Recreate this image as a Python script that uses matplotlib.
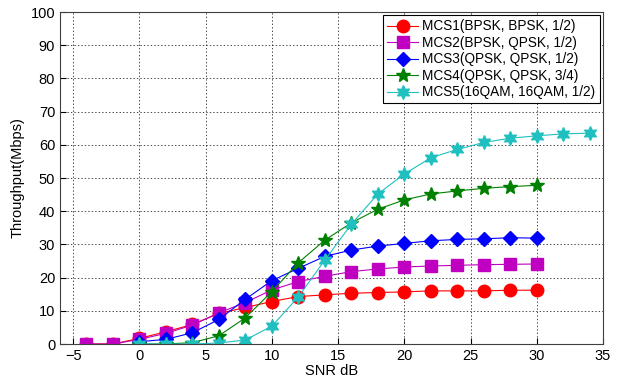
import matplotlib
matplotlib.use("Agg")
import matplotlib.pyplot as plt

plt.rcParams['font.family'] = ['Liberation Sans', 'DejaVu Sans']

# données
snr_mcs1 = [-4, -2, 0, 2, 4, 6, 8, 10, 12, 14, 16, 18, 20, 22, 24, 26, 28, 30]
thr_mcs1 = [0, 0, 1.7, 3.7, 5.9, 9.2, 11.0, 12.8, 14.3, 14.8, 15.3, 15.5, 15.7, 16.0, 16.0, 16.0, 16.2, 16.2]

snr_mcs2 = [-4, -2, 0, 2, 4, 6, 8, 10, 12, 14, 16, 18, 20, 22, 24, 26, 28, 30]
thr_mcs2 = [0, 0, 1.4, 3.2, 5.7, 9.4, 12.5, 16.3, 18.8, 20.4, 21.8, 22.6, 23.2, 23.5, 23.7, 23.9, 24.0, 24.1]

snr_mcs3 = [0, 2, 4, 6, 8, 10, 12, 14, 16, 18, 20, 22, 24, 26, 28, 30]
thr_mcs3 = [0.7, 1.4, 3.4, 7.4, 13.5, 19.1, 22.8, 26.4, 28.3, 29.5, 30.3, 31.1, 31.5, 31.7, 32.0, 31.9]

snr_mcs4 = [0, 2, 4, 6, 8, 10, 12, 14, 16, 18, 20, 22, 24, 26, 28, 30]
thr_mcs4 = [0, 0, 0.4, 2.5, 7.9, 15.8, 24.5, 31.3, 36.5, 40.6, 43.4, 45.2, 46.1, 46.9, 47.4, 47.8]

snr_mcs5 = [0, 2, 4, 6, 8, 10, 12, 14, 16, 18, 20, 22, 24, 26, 28, 30, 32, 34]
thr_mcs5 = [0, 0, 0, 0.3, 1.2, 5.4, 14.2, 25.3, 36.1, 45.2, 51.2, 56.1, 58.6, 60.7, 62.0, 62.7, 63.3, 63.5]

labels = ["MCS1(BPSK, BPSK, 1/2)", "MCS2(BPSK, QPSK, 1/2)", "MCS3(QPSK, QPSK, 1/2)",
          "MCS4(QPSK, QPSK, 3/4)", "MCS5(16QAM, 16QAM, 1/2)"]
xticks = [-5, 0, 5, 10, 15, 20, 25, 30, 35]
yticks = [0, 10, 20, 30, 40, 50, 60, 70, 80, 90, 100]

fig = plt.figure(figsize=(6.23, 3.8), dpi=100)
ax = fig.add_axes([60 / 623, 1 - 344 / 380, 543 / 623, 332 / 380])

series = [
    (snr_mcs1, thr_mcs1, "red", "o", 9),
    (snr_mcs2, thr_mcs2, "#c000c0", "s", 8),
    (snr_mcs3, thr_mcs3, "blue", "D", 7),
    (snr_mcs4, thr_mcs4, "green", "*", 10),
    (snr_mcs5, thr_mcs5, "#20c0c0", (6, 1, 0), 10),
]
for (x, y, c, m, ms), lab in zip(series, labels):
    ax.plot(x, y, color=c, marker=m, markersize=ms, markerfacecolor=c,
            markeredgecolor=c, linewidth=0.8, label=lab)

ax.set_xlim(-6, 35)
ax.set_ylim(0, 100)
ax.set_xticks(xticks)
ax.set_yticks(yticks)
ax.grid(True, linestyle=(0, (2, 3)), color="black", linewidth=0.5)
ax.tick_params(direction="in", labelsize=10.5, length=4)
for s in ax.spines.values():
    s.set_color("#404040")
ax.set_xlabel("SNR dB", fontsize=10.5, labelpad=1)
ax.set_ylabel("Throughput(Mbps)", fontsize=10.5)

leg = ax.legend(loc="upper right", fontsize=9.8, fancybox=False, framealpha=1,
                edgecolor="black", handlelength=2.3, borderpad=0.3,
                labelspacing=0.18, handletextpad=0.3, borderaxespad=0.25)
leg.get_frame().set_linewidth(0.8)

fig.savefig("out.png", dpi=100)
